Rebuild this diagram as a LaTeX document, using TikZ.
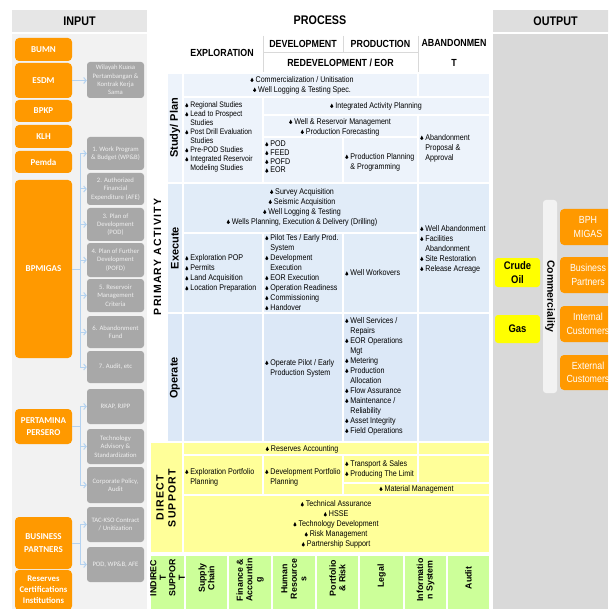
\documentclass[tikz,border=0pt]{standalone}
\usepackage{fontspec}
\setmainfont{Liberation Sans}[FakeStretch=0.86]
\newfontfamily\widefont{Liberation Sans}
\newfontfamily\widesp{Liberation Sans}[LetterSpace=12]
\newfontfamily\carl{Carlito}
\usetikzlibrary{arrows.meta}
\definecolor{orng}{HTML}{FF9900}
\definecolor{gbox}{HTML}{A8A8A8}
\definecolor{gtxt}{HTML}{EFEFEF}
\definecolor{inpanel}{HTML}{F2F2F2}
\definecolor{inhead}{HTML}{E6E6E6}
\definecolor{outpanel}{HTML}{D9D9D9}
\definecolor{outhead}{HTML}{DEDEDE}
\definecolor{conn}{HTML}{B4D2F0}
\definecolor{cplan}{HTML}{EDF3FB}
\definecolor{cexec}{HTML}{E1ECF8}
\definecolor{coper}{HTML}{DCE8F7}
\definecolor{cdir}{HTML}{FFFF99}
\definecolor{cind}{HTML}{CCFF99}
\definecolor{hline}{HTML}{D9D9D9}
\definecolor{cyel}{HTML}{FFFF00}
\definecolor{ccom}{HTML}{F2F2F2}
\newcommand\drp{\tikz[baseline=0pt,x=1pt,y=1pt]{\fill[black] (0,4.6) .. controls (-0.3,3.5) and (-1.6,2.6) .. (-1.6,1.5) .. controls (-1.6,-0.3) and (1.6,-0.3) .. (1.6,1.5) .. controls (1.6,2.6) and (0.3,3.5) .. (0,4.6) -- cycle;}}
\newcommand\bul{\drp\hspace{2pt}}
\newcommand\hang{\hspace*{5.2pt}}
\begin{document}
\begin{tikzpicture}[x=1pt,y=-1pt,
  orangebox/.style={fill=orng, rounded corners=4pt, text=white, font=\carl\bfseries\fontsize{9}{12.5}\selectfont, align=center, minimum width=57pt, inner sep=1pt},
  graybox/.style={fill=gbox, rounded corners=3pt, text=gtxt, font=\carl\fontsize{6.7}{8.3}\selectfont, align=center, minimum width=57pt, inner sep=1pt},
  conline/.style={draw=conn, line width=1pt},
  arr/.style={draw=conn, line width=1pt, -{Straight Barb[length=2.5pt,width=6pt]}},
  hdr/.style={font=\bfseries\fontsize{12.5}{14}\selectfont, inner sep=0pt},
  sub/.style={font=\bfseries\fontsize{10.3}{20}\selectfont, inner sep=0pt, align=center},
  cell/.style={draw=white, line width=1.2pt},
  txt/.style={font=\fontsize{8.3}{10}\selectfont, inner sep=0pt, align=left},
  ctxt/.style={txt, align=center},
  rlab/.style={font=\widefont\bfseries\fontsize{11}{12}\selectfont, inner sep=0pt},
  rlabsp/.style={font=\widesp\bfseries\fontsize{10.5}{12}\selectfont, inner sep=0pt, align=center},
  ilab/.style={font=\widefont\bfseries\fontsize{8.8}{9.5}\selectfont, inner sep=0pt, align=center},
  ybox/.style={fill=cyel, rounded corners=3pt, font=\bfseries\fontsize{11}{14}\selectfont, align=center, minimum width=45pt, inner sep=1pt},
  obox/.style={fill=orng, rounded corners=4pt, text=white, font=\fontsize{10.3}{13.5}\selectfont, align=center, minimum width=56pt, inner sep=1pt}
]
\useasboundingbox (0,0) rectangle (608,609);
\clip (0,0) rectangle (608,609);

% ---------- INPUT ----------
\fill[inpanel] (12,34) rectangle (147,609);
\node[hdr, fill=inhead, minimum width=135pt, minimum height=22pt] (inh) at (79.5,21) {INPUT};

\node[orangebox, minimum height=23pt] (bumn) at (43.5,49.5) {BUMN};
\node[orangebox, minimum height=35pt] (esdm) at (43.5,80.5) {ESDM};
\node[orangebox, minimum height=22pt] (bpkp) at (43.5,111) {BPKP};
\node[orangebox, minimum height=23pt] (klh) at (43.5,136.5) {KLH};
\node[orangebox, minimum height=22pt] (pemda) at (43.5,162) {Pemda};
\node[orangebox, minimum height=178pt] (bpm) at (43.5,269) {BPMIGAS};
\node[orangebox, minimum height=35pt] (pert) at (43.5,426.5) {PERTAMINA\\PERSERO};
\node[orangebox, minimum height=52pt] (bpin) at (43.5,543) {BUSINESS\\PARTNERS};
\node[orangebox, minimum height=40pt, font=\carl\bfseries\fontsize{8.7}{11.2}\selectfont] (rci) at (43.5,590) {Reserves\\Certifications\\Institutions};

\node[graybox, minimum height=36pt] (wk) at (115.5,80) {Wilayah Kuasa\\Pertambangan \&\\Kontrak Kerja\\Sama};
\node[graybox, minimum height=33pt] (g1) at (115.5,153.5) {1. Work Program\\\& Budget (WP\&B)};
\node[graybox, minimum height=32pt] (g2) at (115.5,189) {2. Authorized\\Financial\\Expenditure (AFE)};
\node[graybox, minimum height=33pt] (g3) at (115.5,224.5) {3. Plan of\\Development\\(POD)};
\node[graybox, minimum height=34pt] (g4) at (115.5,260) {4. Plan of Further\\Development\\(POFD)};
\node[graybox, minimum height=33pt] (g5) at (115.5,295.5) {5. Reservoir\\Management\\Criteria};
\node[graybox, minimum height=32pt] (g6) at (115.5,332) {6. Abandonment\\Fund};
\node[graybox, minimum height=32pt] (g7) at (115.5,367) {7. Audit, etc};
\node[graybox, minimum height=35pt] (g8) at (115.5,406.5) {RKAP, RJPP};
\node[graybox, minimum height=35pt] (g9) at (115.5,446.5) {Technology\\Advisory \&\\Standardization};
\node[graybox, minimum height=36pt] (g10) at (115.5,485) {Corporate Policy,\\Audit};
\node[graybox, minimum height=35pt] (g11) at (115.5,524.5) {TAC-KSO Contract\\/ Unitization};
\node[graybox, minimum height=35pt] (g12) at (115.5,564.5) {POD, WP\&B, AFE};

\coordinate (tb) at (80,0);
\draw[arr] (esdm.east) -- (esdm.east -| wk.west);
\draw[conline] (bpm.east) -- (bpm.east -| tb);
\draw[conline] (tb |- g1.west) -- (tb |- g7.west);
\foreach \g in {g1,g2,g3,g4,g5,g6,g7} \draw[arr] (tb |- \g.west) -- (\g.west);
\draw[conline] (pert.east) -- (pert.east -| tb);
\draw[conline] (tb |- g8.west) -- (tb |- g10.west);
\foreach \g in {g8,g9,g10} \draw[arr] (tb |- \g.west) -- (\g.west);
\draw[conline] (bpin.east) -- (bpin.east -| tb);
\draw[conline] (tb |- g11.west) -- (tb |- g12.west);
\foreach \g in {g11,g12} \draw[arr] (tb |- \g.west) -- (\g.west);

% ---------- PROCESS header ----------
\node[hdr] (proc) at (320,20) {PROCESS};
\node[sub] (expl) at (222,53) {EXPLORATION};
\node[sub] (dev) at (303,44) {DEVELOPMENT};
\node[sub] (prod) at (380.5,44) {PRODUCTION};
\node[sub] (redev) at (340.5,63) {REDEVELOPMENT / EOR};
\node[sub] (aband) at (454,53) {ABANDONMEN\\T};
\draw[hline, line width=1pt] (263,36) -- (263,73) (343,36) -- (343,53) (418,36) -- (418,73) (263,53) -- (418,53);

% ---------- Study / Plan ----------
\path[cell, fill=cplan] (167,73) rectangle (183,183);
\path[cell, fill=cplan] (183,73) rectangle (418,97);
\path[cell, fill=cplan] (418,73) rectangle (490,97);
\path[cell, fill=cplan] (183,97) rectangle (263,183);
\path[cell, fill=cplan] (263,97) rectangle (490,115);
\path[cell, fill=cplan] (263,115) rectangle (418,137);
\path[cell, fill=cplan] (418,115) rectangle (490,183);
\path[cell, fill=cplan] (263,137) rectangle (343,183);
\path[cell, fill=cplan] (343,137) rectangle (418,183);
% ---------- Execute ----------
\path[cell, fill=cexec] (167,183) rectangle (183,313);
\path[cell, fill=cexec] (183,183) rectangle (418,233);
\path[cell, fill=cexec] (418,183) rectangle (490,313);
\path[cell, fill=cexec] (183,233) rectangle (263,313);
\path[cell, fill=cexec] (263,233) rectangle (343,313);
\path[cell, fill=cexec] (343,233) rectangle (418,313);
% ---------- Operate ----------
\path[cell, fill=coper] (167,313) rectangle (183,442);
\path[cell, fill=coper] (183,313) rectangle (263,442);
\path[cell, fill=coper] (263,313) rectangle (343,442);
\path[cell, fill=coper] (343,313) rectangle (418,442);
\path[cell, fill=coper] (418,313) rectangle (490,442);
% ---------- Direct support ----------
\path[cell, fill=cdir] (150,442) rectangle (183,553);
\path[cell, fill=cdir] (183,442) rectangle (418,455);
\path[cell, fill=cdir] (418,442) rectangle (490,455);
\path[cell, fill=cdir] (183,455) rectangle (263,495);
\path[cell, fill=cdir] (263,455) rectangle (343,495);
\path[cell, fill=cdir] (343,455) rectangle (418,483);
\path[cell, fill=cdir] (418,455) rectangle (490,483);
\path[cell, fill=cdir] (343,483) rectangle (490,495);
\path[cell, fill=cdir] (183,495) rectangle (490,553);
% ---------- Indirect support ----------
\foreach \a/\b in {150/185,185/228,228/272,272/316,316/359,359/404,404/447,447/490}
  \path[cell, fill=cind] (\a,555) rectangle (\b,620);

% labels
\node[rlabsp, rotate=90] (lpa) at (157.5,257) {PRIMARY ACTIVITY};
\node[rlab, rotate=90] (lplan) at (175,128) {Study/ Plan};
\node[rlab, rotate=90] (lexec) at (175,248) {Execute};
\node[rlab, rotate=90] (lop) at (175,378) {Operate};
\node[rlabsp, rotate=90] (lds) at (166,498) {DIRECT\\SUPPORT};

% study/plan text
\node[ctxt] (t1) at (302,85) {\bul Commercialization / Unitisation\\\bul Well Logging \& Testing Spec.};
\node[txt, anchor=west, font=\fontsize{8}{9}\selectfont] (t2) at (185,137) {\bul Regional Studies\\\bul Lead to Prospect\\\hang Studies\\\bul Post Drill Evaluation\\\hang Studies\\\bul Pre-POD Studies\\\bul Integrated Reservoir\\\hang Modeling Studies};
\node[ctxt] (t3) at (376,106) {\bul Integrated Activity Planning};
\node[ctxt] (t4) at (340,127) {\bul Well \& Reservoir Management\\\bul Production Forecasting};
\node[txt, anchor=west] (t5) at (420,148) {\bul Abandonment\\\hang Proposal \&\\\hang Approval};
\node[txt, anchor=west, font=\fontsize{8.3}{8.8}\selectfont] (t6) at (265,157) {\bul POD\\\bul FEED\\\bul POFD\\\bul EOR};
\node[txt, anchor=west] (t7) at (345,162) {\bul Production Planning\\\hang\& Programming};

% execute text
\node[ctxt] (e1) at (302,207) {\bul Survey Acquisition\\\bul Seismic Acquisition\\\bul Well Logging \& Testing\\\bul Wells Planning, Execution \& Delivery (Drilling)};
\node[txt, anchor=west] (e2) at (420,249) {\bul Well Abandonment\\\bul Facilities\\\hang Abandonment\\\bul Site Restoration\\\bul Release Acreage};
\node[txt, anchor=west] (e3) at (185,273.5) {\bul Exploration POP\\\bul Permits\\\bul Land Acquisition\\\bul Location Preparation};
\node[txt, anchor=west] (e4) at (265,272.5) {\bul Pilot Tes / Early Prod.\\\hang System\\\bul Development\\\hang Execution\\\bul EOR Execution\\\bul Operation Readiness\\\bul Commissioning\\\bul Handover};
\node[txt, anchor=west] (e5) at (345,273) {\bul Well Workovers};

% operate text
\node[txt, anchor=west] (o2) at (265,368) {\bul Operate Pilot / Early\\\hang Production System};
\node[txt, anchor=west] (o3) at (345,376) {\bul Well Services /\\\hang Repairs\\\bul EOR Operations\\\hang Mgt\\\bul Metering\\\bul Production\\\hang Allocation\\\bul Flow Assurance\\\bul Maintenance /\\\hang Reliability\\\bul Asset Integrity\\\bul Field Operations};

% direct support text
\node[ctxt] (d1) at (302,449) {\bul Reserves Accounting};
\node[txt, anchor=west] (d2) at (185,477) {\bul Exploration Portfolio\\\hang Planning};
\node[txt, anchor=west] (d3) at (265,477) {\bul Development Portfolio\\\hang Planning};
\node[txt, anchor=west] (d4) at (345,469) {\bul Transport \& Sales\\\bul Producing The Limit};
\node[ctxt] (d5) at (416.5,489) {\bul Material Management};
\node[ctxt] (d6) at (336,524.5) {\bul Technical Assurance\\\bul HSSE\\\bul Technology Development\\\bul Risk Management\\\bul Partnership Support};

% indirect support labels
\node[ilab, rotate=90] (i0) at (167.5,578) {INDIREC\\T\\SUPPOR\\T};
\node[ilab, rotate=90] (i1) at (206.5,578) {Supply\\Chain};
\node[ilab, rotate=90] (i2) at (250,580) {Finance \&\\Accountin\\g};
\node[ilab, rotate=90] (i3) at (294,579) {Human\\Resource\\s};
\node[ilab, rotate=90] (i4) at (337.5,578) {Portfolio\\\& Risk};
\node[ilab, rotate=90] (i5) at (381.5,576) {Legal};
\node[ilab, rotate=90] (i6) at (425.5,580) {Informatio\\n System};
\node[ilab, rotate=90] (i7) at (468.5,578) {Audit};

% ---------- OUTPUT ----------
\fill[outpanel] (493,34) rectangle (608,609);
\node[hdr, fill=outhead, minimum width=125pt, minimum height=22pt] (outh) at (555.5,21) {OUTPUT};
\node[ybox, minimum height=29pt] (crude) at (517.5,272.5) {Crude\\Oil};
\node[ybox, minimum height=28pt] (gas) at (517.5,329) {Gas};
\node[fill=ccom, rounded corners=3pt, rotate=-90, minimum width=193pt, minimum height=14pt, inner sep=0pt, font=\widefont\bfseries\fontsize{10.5}{12}\selectfont] (comm) at (550,296.5) {Commerciality};
\node[obox, minimum height=36pt] (bph) at (588,227) {BPH\\MIGAS};
\node[obox, minimum height=36pt] (bpout) at (588,275) {Business\\Partners};
\node[obox, minimum height=36pt] (intc) at (588,324) {Internal\\Customers};
\node[obox, minimum height=35pt] (extc) at (588,372.5) {External\\Customers};
\end{tikzpicture}
\end{document}
